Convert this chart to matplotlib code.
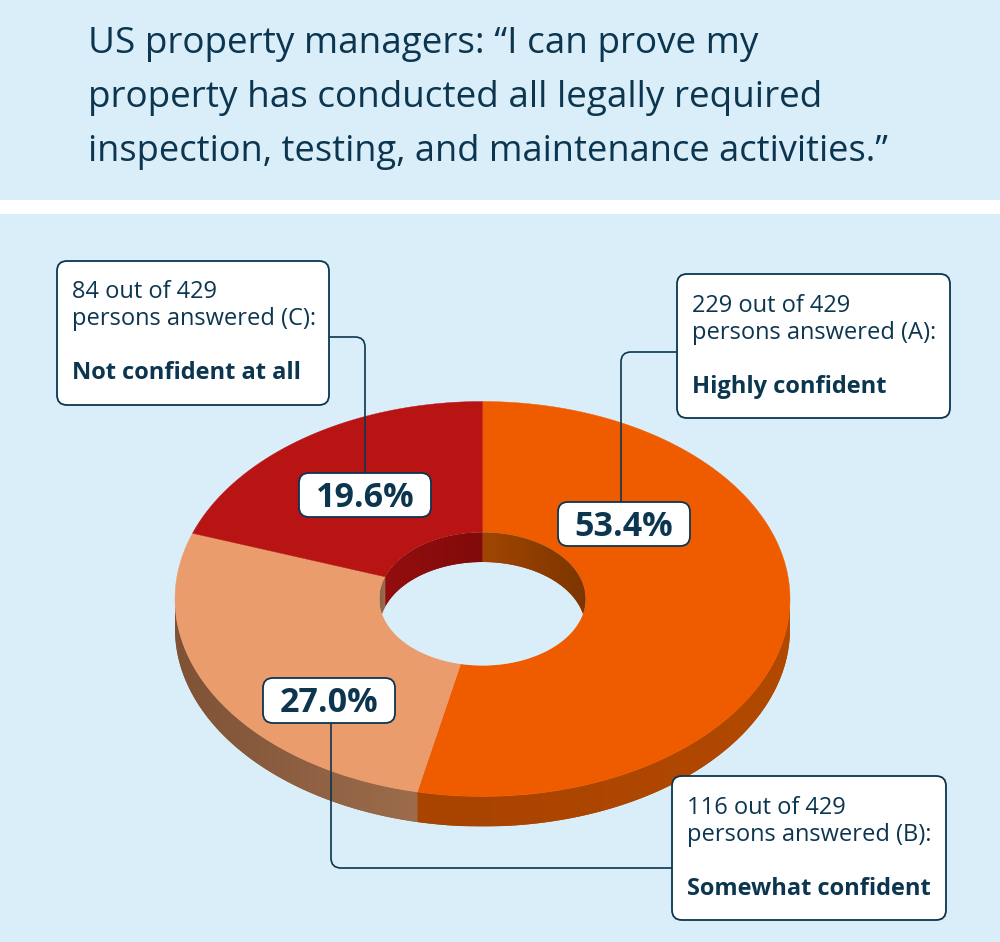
import numpy as np
import matplotlib
matplotlib.use("Agg")
import matplotlib.pyplot as plt
from matplotlib.patches import FancyBboxPatch, PathPatch, Rectangle, Polygon
from matplotlib.path import Path
from matplotlib.colors import to_rgb

# ---- data ----
title_lines = ["US property managers: “I can prove my",
               "property has conducted all legally required",
               "inspection, testing, and maintenance activities.”"]
categories = ["Highly confident", "Somewhat confident", "Not confident at all"]
letters = ["A", "B", "C"]
counts = [229, 116, 84]
total = 429
shares = [53.4, 27.0, 19.6]
share_labels = ["53.4%", "27.0%", "19.6%"]

# ---- style ----
BG = "#daeef9"
INK = "#0c3650"
TOP = ["#ef5c00", "#ea9c6c", "#b81414"]
OUTER_WALL = [("#a84300", "#b24900"), ("#7f5236", "#9c6c4c"), ("#7f5236", "#7f5236")]
INNER_WALL = [("#a04600", "#7d3500"), ("#8f6040", "#a0704e"), ("#930e0e", "#820a0a")]
CX, CY, RX, RY = 482.5, 599.0, 307.5, 197.5
IRX, IRY = 103.0, 66.5
DEPTH, IDEPTH = 30.0, 29.5

fig = plt.figure(figsize=(10, 9.42), dpi=100, facecolor=BG)
ax = fig.add_axes([0, 0, 1, 1])
ax.add_patch(Rectangle((0, 200), 1000, 14, fc="white", ec="none"))


def px(t, rx):
    return CX + rx * np.sin(np.radians(t))


def py(t, ry):
    return CY - ry * np.cos(np.radians(t))


def gradient_poly(xs_top, ys_top, ys_low, c_left, c_right, z):
    """Fill the band between two curves with a smooth left-to-right gradient."""
    verts = np.column_stack([np.concatenate([xs_top, xs_top[::-1]]),
                             np.concatenate([ys_top, ys_low[::-1]])])
    a, b = np.array(to_rgb(c_left)), np.array(to_rgb(c_right))
    ax.add_patch(Polygon(verts, closed=True, fc=tuple((a + b) / 2), ec="none", zorder=z))
    f = np.linspace(0, 1, 128)[:, None]
    row = (a[None, :] + (b - a)[None, :] * f)[None, :, :]
    im = ax.imshow(row, extent=(xs_top.min(), xs_top.max(), verts[:, 1].max(), verts[:, 1].min()),
                   aspect="auto", interpolation="bilinear", zorder=z + 0.1)
    im.set_clip_path(Polygon(verts, closed=True, transform=ax.transData))


edges = np.concatenate([[0], np.cumsum(shares)]) / np.sum(shares) * 360.0

# outer front wall
for i in range(len(shares)):
    a, b = max(edges[i], 90), min(edges[i + 1], 270)
    if b <= a:
        continue
    ts = np.linspace(a, b, 160)
    ys = py(ts, RY)
    gradient_poly(px(ts, RX), ys, ys + DEPTH, OUTER_WALL[i][0], OUTER_WALL[i][1], 2)

# top faces
for i in range(len(shares)):
    ts = np.linspace(edges[i], edges[i + 1], 240)
    xs = np.concatenate([px(ts, RX), px(ts[::-1], IRX)])
    ys = np.concatenate([py(ts, RY), py(ts[::-1], IRY)])
    ax.fill(xs, ys, fc=TOP[i], ec=TOP[i], lw=0.3, zorder=3)

# hole
ts = np.linspace(0, 360, 360)
ax.fill(px(ts, IRX), py(ts, IRY), fc=BG, ec="none", zorder=4)

# inner back wall
for i in range(len(shares)):
    spans = []
    a, b = edges[i], edges[i + 1]
    if a < 90:
        spans.append((a, min(b, 90)))
    if b > 270:
        spans.append((max(a, 270), b))
    for a2, b2 in spans:
        ts = np.linspace(a2, b2, 120)
        top = py(ts, IRY)
        low = np.minimum(top + IDEPTH, 2 * CY - top)
        gradient_poly(px(ts, IRX), top, low, INNER_WALL[i][0], INNER_WALL[i][1], 5)


def leader(points):
    (x0, y0), (xc, yc), (x1, y1) = points
    r = 10
    d0 = np.hypot(xc - x0, yc - y0)
    d1 = np.hypot(x1 - xc, y1 - yc)
    p0 = (xc + (x0 - xc) * r / d0, yc + (y0 - yc) * r / d0)
    p1 = (xc + (x1 - xc) * r / d1, yc + (y1 - yc) * r / d1)
    path = Path([(x0, y0), p0, (xc, yc), p1, (x1, y1)],
                [Path.MOVETO, Path.LINETO, Path.CURVE3, Path.CURVE3, Path.LINETO])
    ax.add_patch(PathPatch(path, fc="none", ec=INK, lw=1.2, zorder=6))


def box(x0, y0, x1, y1):
    ax.add_patch(FancyBboxPatch((x0, y0), x1 - x0, y1 - y0,
                                boxstyle="round,pad=0,rounding_size=10",
                                fc="white", ec=INK, lw=1.3, zorder=7))


FONT = "Open Sans"
for line, base, size in zip(title_lines, [53, 107, 161], [26.6, 26.6, 26.1]):
    ax.text(88, base, line, family=FONT, fontsize=size, color=INK, va="baseline", ha="left", zorder=8)

leader([(677, 352), (621, 352), (621, 502)])
leader([(331, 723), (331, 868), (672, 868)])
leader([(329, 337), (365, 337), (365, 473)])

# callouts: (box, percent box, baselines) per category
callouts = [((677, 274, 950, 418), (558, 502, 690, 546), (312, 339, 393)),
            ((672, 776, 946, 920), (263, 678, 395, 723), (814, 841, 895)),
            ((57, 261, 329, 405), (299, 473, 431, 517), (298, 325, 379))]
for i, (b, p, bl) in enumerate(callouts):
    box(*b)
    tx = b[0] + 15
    ax.text(tx, bl[0], f"{counts[i]} out of {total}", family=FONT, fontsize=17, color=INK, va="baseline", zorder=8)
    ax.text(tx, bl[1], f"persons answered ({letters[i]}):", family=FONT, fontsize=17, color=INK, va="baseline", zorder=8)
    ax.text(tx, bl[2], categories[i], family=FONT, fontsize=17, weight="bold", color=INK, va="baseline", zorder=8)
    box(*p)
    ax.text((p[0] + p[2]) / 2, (p[1] + p[3]) / 2 + 12, share_labels[i], family=FONT, fontsize=24.5, weight="bold",
            color=INK, ha="center", va="baseline", zorder=8)

ax.set_xlim(0, 1000)
ax.set_ylim(942, 0)
ax.axis("off")
fig.savefig("out.png", dpi=100, facecolor=BG)
